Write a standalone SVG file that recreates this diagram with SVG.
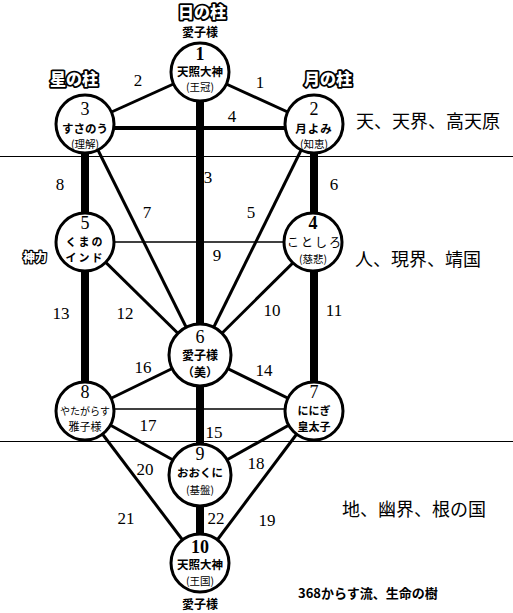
<svg xmlns="http://www.w3.org/2000/svg" width="513" height="613" viewBox="0 0 513 613">
<style>
.bg{fill:#fff}
.sep{stroke:#000;stroke-width:1}
.c circle{fill:#fff;stroke:#000;stroke-width:3}
.num{font-size:18px;text-anchor:middle}
.b{font-weight:bold}
.jp{font-family:"Noto Sans CJK JP",sans-serif;font-weight:bold;font-size:11.5px;text-anchor:middle}
.sub{font-family:"Noto Sans CJK JP",sans-serif;font-size:10.5px;text-anchor:middle}
.lbl{font-size:17px;text-anchor:middle}
.pillar{font-family:"Noto Sans CJK JP",sans-serif;font-weight:900;font-size:16px;fill:#fff;stroke:#000;stroke-width:3.5;paint-order:stroke;stroke-linejoin:round;text-anchor:middle}
.realm{font-family:"Noto Sans CJK JP",sans-serif;font-size:18px}
.ai{font-family:"Noto Sans CJK JP",sans-serif;font-weight:bold;font-size:12px;text-anchor:middle}
.w8{stroke:#000;stroke-width:8}
.w4{stroke:#000;stroke-width:4}
.w3{stroke:#000;stroke-width:3}
.w1{stroke:#000;stroke-width:1.5}
</style>
<rect class="bg" x="0" y="0" width="513" height="613"/>
<line class="sep" x1="0" y1="156.5" x2="513" y2="156.5"/>
<line class="sep" x1="0" y1="441.5" x2="513" y2="441.5"/>
<g id="connectors">
<line class="w8" x1="200" y1="72" x2="200" y2="563"/>
<line class="w8" x1="85" y1="124" x2="85" y2="411"/>
<line class="w8" x1="314" y1="124" x2="314" y2="411"/>
<line class="w3" x1="200" y1="72" x2="85" y2="124"/>
<line class="w3" x1="200" y1="72" x2="314" y2="124"/>
<line class="w4" x1="85" y1="128" x2="314" y2="128"/>
<line class="w3" x1="85" y1="124" x2="200" y2="355"/>
<line class="w3" x1="314" y1="124" x2="200" y2="355"/>
<line class="w1" x1="85" y1="242" x2="314" y2="242"/>
<line class="w3" x1="85" y1="242" x2="200" y2="355"/>
<line class="w3" x1="314" y1="242" x2="200" y2="355"/>
<line class="w3" x1="85" y1="411" x2="200" y2="355"/>
<line class="w3" x1="314" y1="411" x2="200" y2="355"/>
<line class="w1" x1="85" y1="409" x2="314" y2="409"/>
<line class="w3" x1="85" y1="411" x2="200" y2="475"/>
<line class="w3" x1="314" y1="411" x2="200" y2="475"/>
<line class="w3" x1="85" y1="411" x2="200" y2="563"/>
<line class="w3" x1="314" y1="411" x2="200" y2="563"/>
<g class="lbl" font-family="Liberation Serif, DejaVu Serif, serif">
<text x="138" y="86">2</text>
<text x="260" y="88">1</text>
<text x="232" y="122">4</text>
<text x="208" y="183">3</text>
<text x="60" y="190">8</text>
<text x="334" y="190">6</text>
<text x="147" y="218">7</text>
<text x="251" y="218">5</text>
<text x="217" y="261">9</text>
<text x="61" y="319">13</text>
<text x="125" y="319">12</text>
<text x="272" y="316">10</text>
<text x="334" y="316">11</text>
<text x="143" y="373">16</text>
<text x="264" y="376">14</text>
<text x="148" y="431">17</text>
<text x="214" y="438">15</text>
<text x="145" y="475">20</text>
<text x="256" y="469">18</text>
<text x="126" y="524">21</text>
<text x="216" y="524">22</text>
<text x="267" y="526">19</text>
</g>
</g>
<g id="n1" class="c"><circle cx="200" cy="72" r="29"/>
<text class="num b" font-family="Liberation Serif, DejaVu Serif, serif" x="200" y="60">1</text>
<text class="jp" x="200" y="76">天照大神</text>
<text class="sub" x="200" y="91">(王冠)</text></g>
<g id="n2" class="c"><circle cx="314" cy="124" r="29"/>
<text class="num" font-family="Liberation Serif, DejaVu Serif, serif" x="314" y="115">2</text>
<text class="jp" x="314" y="133" letter-spacing="1">月よみ</text>
<text class="sub" x="314" y="148">(知恵)</text></g>
<g id="n3" class="c"><circle cx="85" cy="124" r="29"/>
<text class="num" font-family="Liberation Serif, DejaVu Serif, serif" x="85" y="115">3</text>
<text class="jp" x="85" y="133">すさのう</text>
<text class="sub" x="85" y="148">(理解)</text></g>
<g id="n5" class="c"><circle cx="85" cy="242" r="29"/>
<text class="num" font-family="Liberation Serif, DejaVu Serif, serif" x="85" y="229">5</text>
<text class="jp" x="85" y="246" letter-spacing="2" style="font-size:11px">くまの</text>
<text class="jp" x="85" y="262" letter-spacing="2" style="font-size:11px">インド</text></g>
<g id="n4" class="c"><circle cx="313" cy="242" r="29"/>
<text class="num b" font-family="Liberation Serif, DejaVu Serif, serif" x="313" y="229">4</text>
<text class="jp" x="315" y="247" letter-spacing="2" style="font-weight:normal;font-size:12px">ことしろ</text>
<text class="sub" x="313" y="263">(慈悲)</text></g>
<g id="n6" class="c"><circle cx="200" cy="355" r="31"/>
<text class="num" font-family="Liberation Serif, DejaVu Serif, serif" x="200" y="343">6</text>
<text class="jp" x="200" y="360" style="font-size:12px">愛子様</text>
<text class="jp" x="200" y="377" style="font-size:12px">（美）</text></g>
<g id="n8" class="c"><circle cx="85" cy="411" r="29"/>
<text class="num" font-family="Liberation Serif, DejaVu Serif, serif" x="85" y="398">8</text>
<text class="jp" x="85" y="415" style="font-weight:normal;font-size:10px">やたがらす</text>
<text class="jp" x="85" y="431" style="font-weight:normal;font-size:11px">雅子様</text></g>
<g id="n7" class="c"><circle cx="314" cy="411" r="29"/>
<text class="num" font-family="Liberation Serif, DejaVu Serif, serif" x="314" y="398">7</text>
<text class="jp" x="314" y="415" style="font-size:11px">ににぎ</text>
<text class="jp" x="314" y="431" style="font-size:11px">皇太子</text></g>
<g id="n9" class="c"><circle cx="200" cy="475" r="31"/>
<text class="num" font-family="Liberation Serif, DejaVu Serif, serif" x="200" y="460">9</text>
<text class="jp" x="200" y="477">おおくに</text>
<text class="sub" x="200" y="494">(基盤)</text></g>
<g id="n10" class="c"><circle cx="200" cy="563" r="29"/>
<text class="num b" font-family="Liberation Serif, DejaVu Serif, serif" x="200" y="553">10</text>
<text class="jp" x="200" y="569">天照大神</text>
<text class="sub" x="200" y="585">(王国)</text></g>
<text class="pillar" x="202" y="18">日の柱</text>
<text class="ai" x="200" y="37">愛子様</text>
<text class="pillar" x="74" y="85">星の柱</text>
<text class="pillar" x="328" y="85">月の柱</text>
<text class="pillar" x="35" y="262" style="font-size:12px;stroke-width:2.5">神力</text>
<text class="realm" x="356" y="128">天、天界、高天原</text>
<text class="realm" x="355" y="266">人、現界、靖国</text>
<text class="realm" x="342" y="516">地、幽界、根の国</text>
<text x="298" y="598" style="font-family:'Noto Sans CJK JP',sans-serif;font-weight:bold;font-size:13px">368からす流、生命の樹</text>
<text class="ai" x="200" y="609">愛子様</text>
</svg>
